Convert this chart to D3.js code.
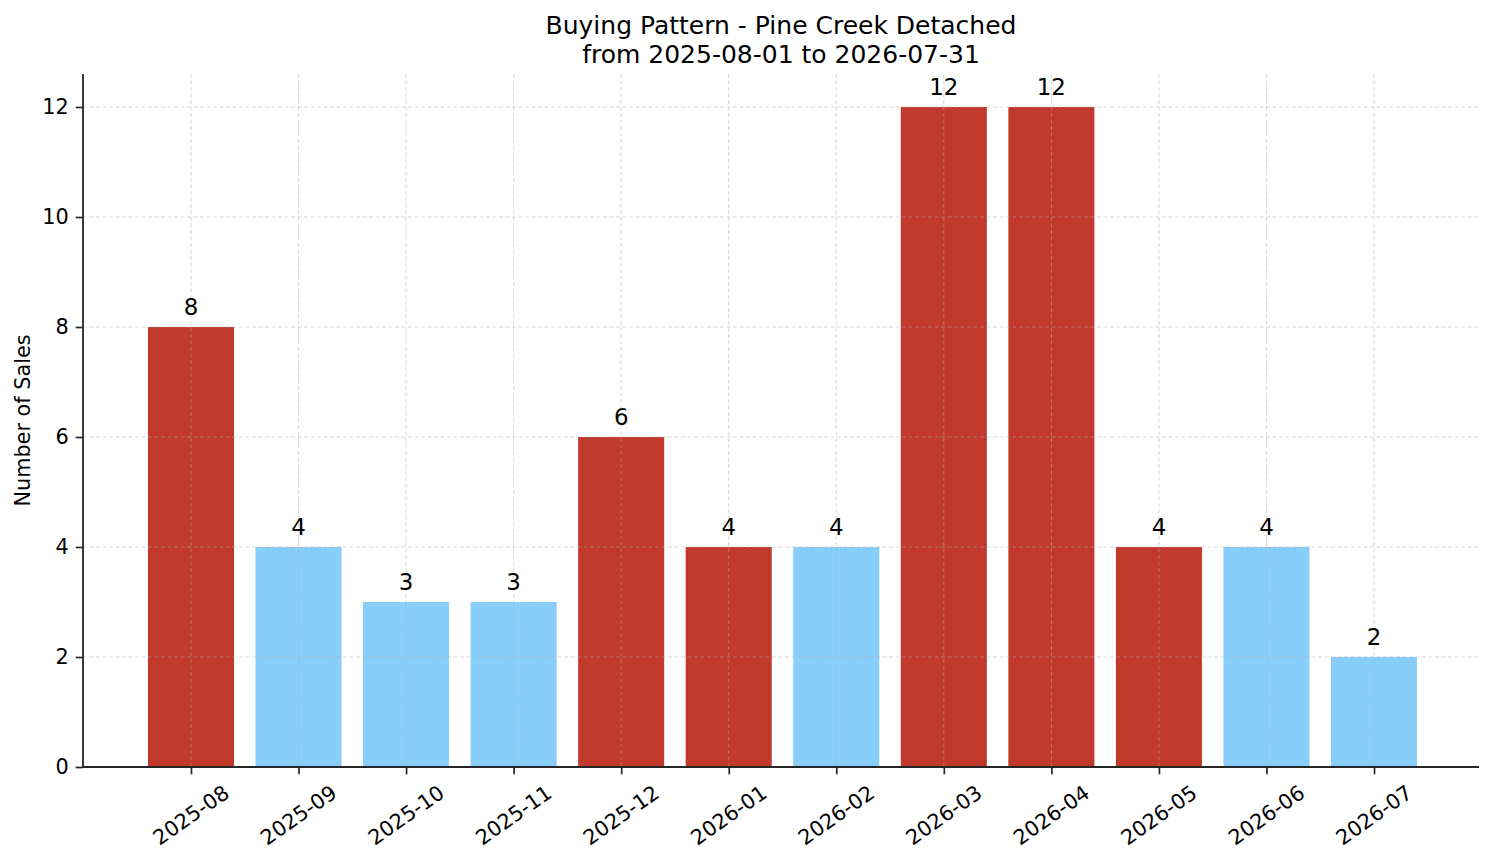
<!DOCTYPE html>
<meta charset="utf-8">
<style>
body { margin: 0; background: #fff; }
text { font-family: "DejaVu Sans", sans-serif; fill: #000; }
.grid line { stroke: #b0b0b0; stroke-opacity: 0.5; stroke-dasharray: 4,2.5; stroke-width: 1; }
.axis path, .axis line { stroke: #262626; }
</style>
<svg width="1494" height="863"></svg>
<script src="https://d3js.org/d3.v7.min.js"></script>
<script>
const months = ["2025-08", "2025-09", "2025-10", "2025-11", "2025-12", "2026-01",
                "2026-02", "2026-03", "2026-04", "2026-05", "2026-06", "2026-07"]
const sales = [8, 4, 3, 3, 6, 4, 4, 12, 12, 4, 4, 2]
const highlight = [true, false, false, false, true, true, false, true, true, true, false, false]
const yTicks = [0, 2, 4, 6, 8, 10, 12]
const titleLines = ["Buying Pattern - Pine Creek Detached", "from 2025-08-01 to 2026-07-31"]

const svg = d3.select("svg"),
    margin = {top: 74, right: 15, bottom: 96, left: 83},
    width = +svg.attr("width") - margin.left - margin.right,
    height = +svg.attr("height") - margin.top - margin.bottom,
    g = svg.append("g").attr("transform", `translate(${margin.left},${margin.top})`)

const barW = 0.8
// matplotlib-like 5% margins around the bars
const span = (months.length - 1) + barW
const pad = span * 0.05
const x = d3.scaleLinear()
    .domain([-barW / 2 - pad, months.length - 1 + barW / 2 + pad])
    .range([1.5, width + 1.5])

const y = d3.scaleLinear()
    .domain([0, d3.max(sales) * 1.05])
    .range([height, 0])

// bars
g.append("g").selectAll("rect")
    .data(sales)
  .enter().append("rect")
    .attr("x", (d, i) => x(i - barW / 2))
    .attr("y", d => y(d))
    .attr("width", x(barW) - x(0))
    .attr("height", d => height - y(d))
    .attr("fill", (d, i) => highlight[i] ? "#c0392b" : "#87cefa")

// grid lines (drawn over bars, faint)
const grid = g.append("g").attr("class", "grid")
grid.selectAll(".gy")
    .data(yTicks)
  .enter().append("line")
    .attr("x1", 0).attr("x2", width)
    .attr("y1", d => y(d)).attr("y2", d => y(d))
grid.selectAll(".gx")
    .data(months)
  .enter().append("line")
    .attr("x1", (d, i) => x(i)).attr("x2", (d, i) => x(i))
    .attr("y1", 0).attr("y2", height)

// value labels
g.append("g").selectAll("text")
    .data(sales)
  .enter().append("text")
    .attr("x", (d, i) => x(i))
    .attr("y", d => y(d) - 12.5)
    .attr("text-anchor", "middle")
    .style("font-size", "22.9px")
    .text(d => d)

// y axis
const yAxis = g.append("g")
    .attr("class", "axis")
    .call(d3.axisLeft(y).tickValues(yTicks).tickSize(7.3).tickPadding(7).tickSizeOuter(0))
yAxis.select(".domain").attr("stroke-width", 1.8).attr("d", `M0,${height}V0`)
yAxis.selectAll(".tick line").attr("stroke-width", 1.7)
yAxis.selectAll(".tick text").style("font-size", "20.8px").attr("fill", "#000")

// x axis
const xAxis = g.append("g")
    .attr("class", "axis")
    .attr("transform", `translate(0,${height})`)
    .call(d3.axisBottom(x).tickValues(d3.range(months.length)).tickSize(7.3).tickFormat("").tickSizeOuter(0))
xAxis.select(".domain").attr("stroke-width", 1.8).attr("d", `M0,0H${width}`)
xAxis.selectAll(".tick line").attr("stroke-width", 1.7)

g.append("g").selectAll("text")
    .data(months)
  .enter().append("text")
    .attr("transform", (d, i) => `translate(${x(i)},${height + 48}) rotate(-35)`)
    .attr("text-anchor", "middle")
    .attr("dy", "0.35em")
    .style("font-size", "20.8px")
    .text(d => d)

// y label
svg.append("text")
    .attr("transform", `translate(23,${margin.top + height / 2}) rotate(-90)`)
    .attr("text-anchor", "middle")
    .attr("dy", "0.35em")
    .style("font-size", "20.8px")
    .text("Number of Sales")

// title
svg.append("g").selectAll("text")
    .data(titleLines)
  .enter().append("text")
    .attr("x", margin.left + width / 2)
    .attr("y", (d, i) => 34 + i * 29)
    .attr("text-anchor", "middle")
    .style("font-size", "25px")
    .text(d => d)
</script>
